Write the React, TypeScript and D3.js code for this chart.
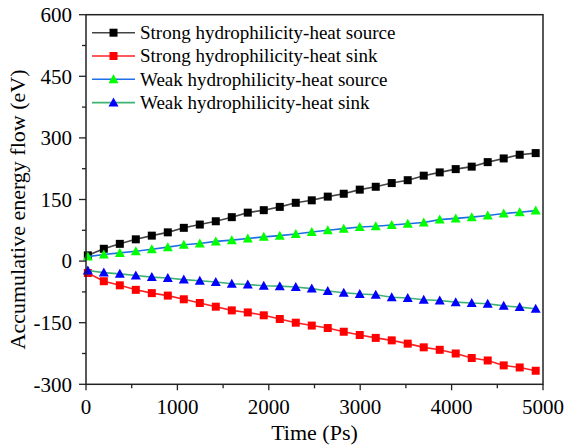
import React from "react";
import * as d3 from "d3";

const times: number[] = Array.from({ length: 29 }, (_, i) => 20 + 175 * i);
const strongSource = [14,30,42,53,62,70,81,89,97,107,118,124,132,142,148,157,164,174,181,190,197,208,216,224,230,241,250,259,263];
const strongSink = [-29,-49,-59,-70,-78,-84,-93,-102,-111,-120,-125,-132,-141,-150,-157,-163,-172,-180,-187,-193,-201,-210,-216,-225,-236,-242,-254,-259,-267];
const weakSource = [11,16,20,24,29,34,40,43,48,51,55,59,62,66,71,75,79,83,85,88,91,94,101,104,107,111,116,119,123];
const weakSink = [-23,-28,-31,-35,-39,-41,-45,-48,-51,-55,-57,-60,-61,-63,-67,-73,-77,-80,-82,-88,-90,-94,-96,-100,-102,-104,-109,-112,-116];

const seriesNames = [
  "Strong hydrophilicity-heat source",
  "Strong hydrophilicity-heat sink",
  "Weak hydrophilicity-heat source",
  "Weak hydrophilicity-heat sink",
];
const xTicks = [0, 1000, 2000, 3000, 4000, 5000];
const yTicks = [-300, -150, 0, 150, 300, 450, 600];

const W = 564, H = 446;
const L = 86, R = 543, T = 14.7, B = 384.3;
const FONT = "'Liberation Serif', 'Times New Roman', serif";
const tx = { fontFamily: FONT };

export default function App() {
  const x = d3.scaleLinear().domain([0, 5000]).range([L, R]);
  const y = d3.scaleLinear().domain([-300, 600]).range([B, T]);
  const series = [
    { name: seriesNames[0], data: strongSource, line: "#444444", fill: "#000000", shape: "square" },
    { name: seriesNames[1], data: strongSink, line: "#ff2020", fill: "#ff0000", shape: "square" },
    { name: seriesNames[2], data: weakSource, line: "#1f6fe8", fill: "#00ff00", shape: "triangle" },
    { name: seriesNames[3], data: weakSink, line: "#3cb371", fill: "#0000ff", shape: "triangle" },
  ];
  const lineGen = d3.line<number>().x((_, i) => x(times[i])).y((d) => y(d));
  const marker = (shape: string, cx: number, cy: number, fill: string, key: any) =>
    shape === "square" ? (
      <rect key={key} x={cx - 4} y={cy - 4} width={8} height={8} fill={fill} />
    ) : (
      <path key={key} d={`M${cx},${cy - 5}L${cx + 5},${cy + 4}L${cx - 5},${cy + 4}Z`} fill={fill} />
    );
  const xMinor = d3.range(500, 5000, 1000);
  const yMinor = d3.range(-225, 600, 150);
  return (
    <svg width={W} height={H} style={{ position: "absolute", left: 0, top: 0, background: "#fff" }}>
      {series.map((s, si) => (
        <g key={si}>
          <path d={lineGen(s.data) || ""} fill="none" stroke={s.line} strokeWidth={1.6} />
          {s.data.map((v, i) => marker(s.shape, x(times[i]), y(v), s.fill, i))}
        </g>
      ))}
      <rect x={L} y={T} width={R - L} height={B - T} fill="none" stroke="#222" strokeWidth={1.5} />
      {xTicks.map((t) => (
        <g key={t}>
          <line x1={x(t)} x2={x(t)} y1={B} y2={B + 6} stroke="#222" strokeWidth={1.3} />
          <text style={tx} x={x(t)} y={414} textAnchor="middle" fontSize={21}>{t}</text>
        </g>
      ))}
      {xMinor.map((t) => (
        <line key={t} x1={x(t)} x2={x(t)} y1={B} y2={B + 4} stroke="#222" strokeWidth={1.3} />
      ))}
      {yTicks.map((t) => (
        <g key={t}>
          <line x1={L - 7} x2={L} y1={y(t)} y2={y(t)} stroke="#222" strokeWidth={1.3} />
          <text style={tx} x={72} y={y(t)} dy="0.35em" textAnchor="end" fontSize={21}>{t}</text>
        </g>
      ))}
      {yMinor.map((t) => (
        <line key={t} x1={L - 4} x2={L} y1={y(t)} y2={y(t)} stroke="#222" strokeWidth={1.3} />
      ))}
      <text style={tx} x={(L + R) / 2} y={440} textAnchor="middle" fontSize={22}>Time (Ps)</text>
      <text style={tx} transform={`translate(25,${(T + B) / 2 + 10}) rotate(-90)`} textAnchor="middle" fontSize={22}>
        Accumulative energy flow (eV)
      </text>
      {series.map((s, i) => {
        const ly = 32.7 + i * 23.3;
        return (
          <g key={i}>
            <line x1={92} x2={135} y1={ly} y2={ly} stroke={s.line} strokeWidth={1.6} />
            {marker(s.shape, 113.5, ly, s.fill, "m")}
            <text style={tx} x={140} y={ly} dy="0.33em" fontSize={19}>{s.name}</text>
          </g>
        );
      })}
    </svg>
  );
}
